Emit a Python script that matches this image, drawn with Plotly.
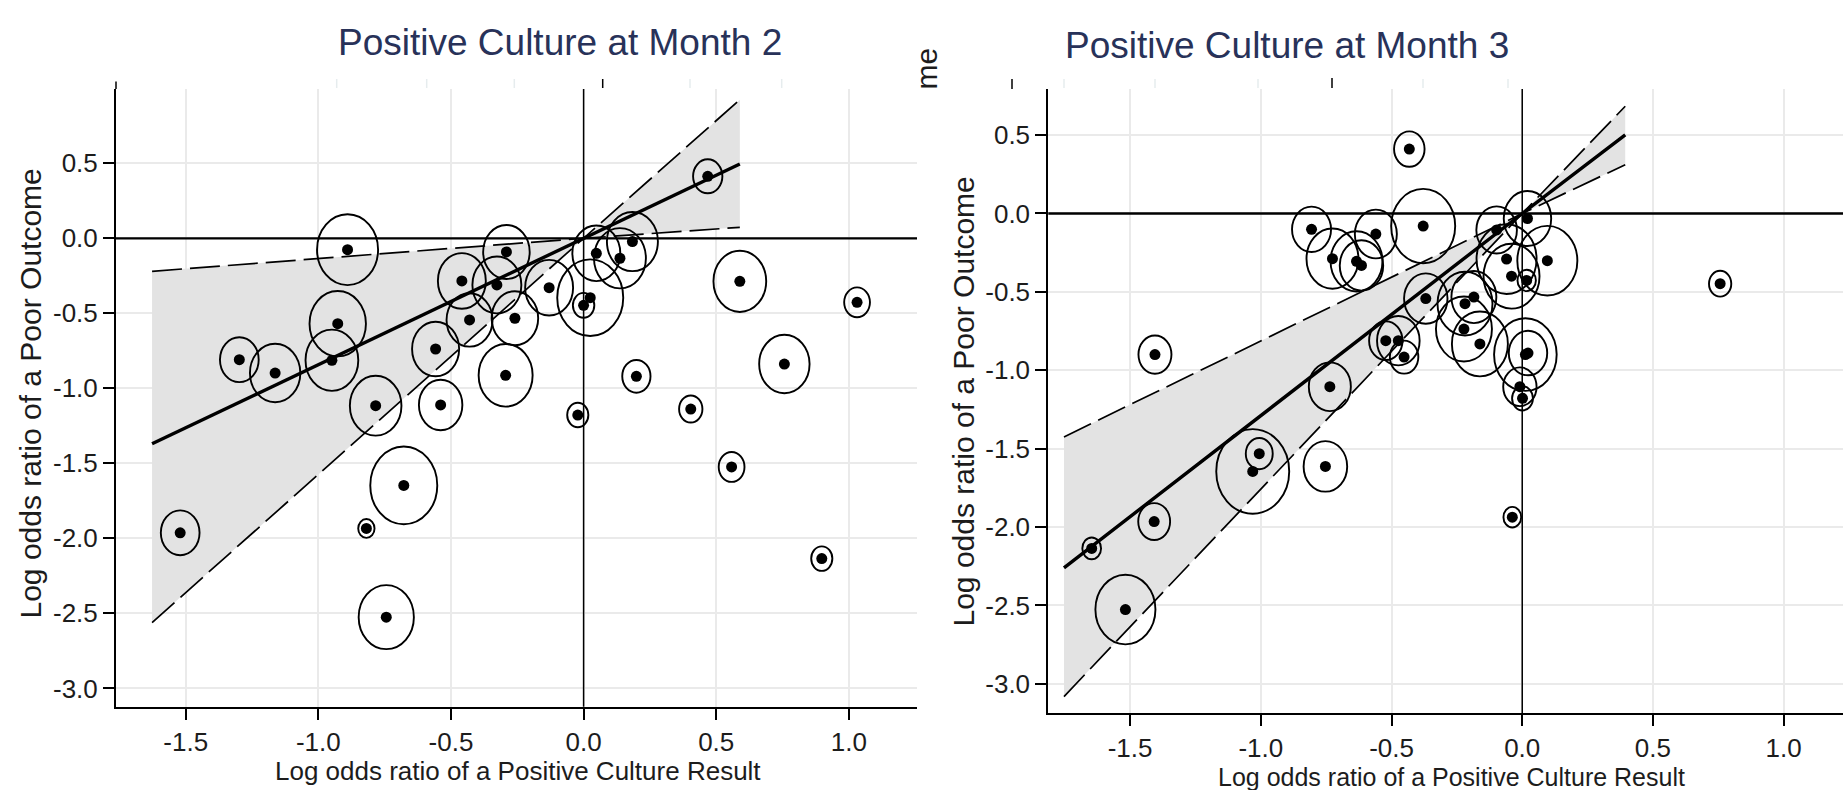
import math
import plotly.graph_objects as go

W, H = 1843, 790

# ---- Month 2: per-study log odds ratios and weights ----
m2_x = [0.468, -0.890, -0.291, 0.184, 0.048, 0.137, -0.459, -0.327, -0.130, 0.025,
        0.000, 0.589, 1.031, -0.927, -0.430, -0.259, -1.298, -1.163, -0.949, -0.558,
        -0.294, 0.199, 0.757, -0.784, -0.539, -0.022, 0.404, 0.558, -0.678, -1.521,
        -0.819, -0.744, 0.898]
m2_y = [0.413, -0.076, -0.091, -0.022, -0.100, -0.133, -0.284, -0.311, -0.329, -0.396,
        -0.447, -0.287, -0.427, -0.569, -0.544, -0.533, -0.809, -0.898, -0.813, -0.738,
        -0.913, -0.920, -0.838, -1.116, -1.111, -1.178, -1.138, -1.524, -1.647, -1.963,
        -1.934, -2.525, -2.135]
m2_w = [7.1, 30.8, 17.9, 21.5, 19.0, 22.3, 19.0, 19.8, 19.0, 36.0,
        3.8, 23.0, 5.5, 26.3, 17.5, 17.9, 12.4, 21.0, 23.0, 18.3,
        24.1, 6.6, 21.0, 22.0, 15.6, 3.7, 4.5, 5.5, 37.1, 12.4,
        2.2, 25.2, 3.7]

# ---- Month 3: per-study log odds ratios and weights ----
m3_x = [-0.432, -1.405, 0.757, -0.806, -0.726, -0.634, -0.615, -0.560, -0.379, -0.369,
        -0.098, 0.020, -0.060, 0.096, -0.041, 0.017, -0.219, -0.185, -0.223, -0.162,
        -0.522, -0.474, -0.452, 0.012, 0.022, -0.009, 0.001, -0.736, -1.006, -1.031,
        -0.753, -1.408, -1.647, -1.518, -0.038]
m3_y = [0.411, -0.900, -0.448, -0.101, -0.288, -0.305, -0.331, -0.131, -0.080, -0.543,
        -0.105, -0.032, -0.291, -0.301, -0.400, -0.427, -0.575, -0.533, -0.737, -0.832,
        -0.811, -0.811, -0.916, -0.900, -0.890, -1.105, -1.179, -1.105, -1.532, -1.645,
        -1.613, -1.965, -2.136, -2.526, -1.937]
m3_w = [7.7, 9.0, 4.1, 12.6, 22.3, 22.3, 15.6, 14.6, 33.9, 15.6,
        13.6, 18.6, 29.8, 29.8, 25.9, 2.8, 25.0, 16.7, 25.9, 25.9,
        9.2, 15.0, 6.7, 32.4, 12.2, 9.2, 3.6, 14.6, 6.0, 44.0,
        15.7, 8.4, 2.9, 29.8, 2.6]

# ---- Fitted meta-regression lines with 95% confidence limits ----
m2_fit_x = [-1.627, 0.0, 0.589]
m2_fit_y = [-1.370, 0.0, 0.495]
m2_ci_hi = [-0.220, 0.0, 0.924]
m2_ci_lo = [-2.561, 0.0, 0.073]

m3_fit_x = [-1.753, 0.0, 0.394]
m3_fit_y = [-2.260, 0.0, 0.501]
m3_ci_hi = [-1.425, 0.0, 0.684]
m3_ci_lo = [-3.081, 0.0, 0.311]

# ---- Tick labels ----
x_tick_vals = [-1.5, -1.0, -0.5, 0.0, 0.5, 1.0]
x_tick_text = ["-1.5", "-1.0", "-0.5", "0.0", "0.5", "1.0"]
y_tick_vals = [0.5, 0.0, -0.5, -1.0, -1.5, -2.0, -2.5, -3.0]
y_tick_text = ["0.5", "0.0", "-0.5", "-1.0", "-1.5", "-2.0", "-2.5", "-3.0"]

titles = ["Positive Culture at Month 2", "Positive Culture at Month 3"]
x_title = "Log odds ratio of a Positive Culture Result"
y_title = "Log odds ratio of a Poor Outcome"

FONT = "Liberation Sans, Arial, Helvetica, sans-serif"
TEXT = "#1c1c1c"
TITLE_COLOR = "#283259"
BAND = "#E3E3E3"
GRID = "#EAEAEA"
ASPECT = 1.16           # bubbles are drawn slightly taller than wide
R_SCALE = 5.5           # px radius per sqrt(weight)


def px_x(p):
    return p / W


def px_y(p):
    return 1 - p / H


fig = go.Figure()
shapes = []
annotations = []

panels = [
    dict(xs="x", ys="y", x=m2_x, y=m2_y, w=m2_w,
         fx=m2_fit_x, fy=m2_fit_y, hi=m2_ci_hi, lo=m2_ci_lo),
    dict(xs="x2", ys="y2", x=m3_x, y=m3_y, w=m3_w,
         fx=m3_fit_x, fy=m3_fit_y, hi=m3_ci_hi, lo=m3_ci_lo),
]

for p in panels:
    # shaded confidence band
    fig.add_trace(go.Scatter(
        x=p["fx"] + p["fx"][::-1], y=p["hi"] + p["lo"][::-1],
        xaxis=p["xs"], yaxis=p["ys"], mode="lines", fill="toself",
        fillcolor=BAND, line=dict(width=0), hoverinfo="skip", showlegend=False))
    # dashed confidence limits
    for lim in (p["hi"], p["lo"]):
        fig.add_trace(go.Scatter(
            x=p["fx"], y=lim, xaxis=p["xs"], yaxis=p["ys"], mode="lines",
            line=dict(color="black", width=1.7, dash="30px,8px"),
            hoverinfo="skip", showlegend=False))
    # fitted line
    fig.add_trace(go.Scatter(
        x=p["fx"], y=p["fy"], xaxis=p["xs"], yaxis=p["ys"], mode="lines",
        line=dict(color="black", width=3.4), hoverinfo="skip", showlegend=False))
    # study estimates
    fig.add_trace(go.Scatter(
        x=p["x"], y=p["y"], xaxis=p["xs"], yaxis=p["ys"], mode="markers",
        marker=dict(color="black", size=11, line=dict(width=0)),
        showlegend=False))
    # weight bubbles
    for xv, yv, wv in zip(p["x"], p["y"], p["w"]):
        r = R_SCALE * math.sqrt(wv)
        shapes.append(dict(
            type="circle", xref=p["xs"], yref=p["ys"],
            xsizemode="pixel", ysizemode="pixel", xanchor=xv, yanchor=yv,
            x0=-r, x1=r, y0=-r * ASPECT, y1=r * ASPECT,
            line=dict(color="black", width=1.9), fillcolor="rgba(0,0,0,0)"))
    # reference lines at zero
    shapes.append(dict(type="line", xref=p["xs"] + " domain", yref=p["ys"],
                       x0=0, x1=1, y0=0, y1=0, line=dict(color="black", width=2.3)))
    shapes.append(dict(type="line", xref=p["xs"], yref=p["ys"] + " domain",
                       x0=0, x1=0, y0=0, y1=1, line=dict(color="black", width=1.5)))

# short strokes along the top edge of each panel
for x0, y0, y1 in [(116, 81.5, 89), (602.7, 79, 88), (1012, 79, 89), (1332, 78, 88)]:
    shapes.append(dict(type="line", xref="paper", yref="paper",
                       x0=px_x(x0), x1=px_x(x0), y0=px_y(y0), y1=px_y(y1),
                       line=dict(color="black", width=1.5)))
for x0 in [336.7, 426.7, 514.3, 690, 781.7, 1064, 1155, 1258, 1423, 1508]:
    shapes.append(dict(type="line", xref="paper", yref="paper",
                       x0=px_x(x0), x1=px_x(x0), y0=px_y(79), y1=px_y(88),
                       line=dict(color="#E6ECEE", width=1.5)))

# panel titles
annotations.append(dict(text=titles[0], x=px_x(560), y=px_y(43), xref="paper", yref="paper",
                        showarrow=False, xanchor="center", yanchor="middle",
                        font=dict(family=FONT, size=37, color=TITLE_COLOR)))
annotations.append(dict(text=titles[1], x=px_x(1287), y=px_y(46), xref="paper", yref="paper",
                        showarrow=False, xanchor="center", yanchor="middle",
                        font=dict(family=FONT, size=37, color=TITLE_COLOR)))
# axis titles
for cx, cy, fs in [(518, 771, 26), (1451.5, 776.5, 25)]:
    annotations.append(dict(text=x_title, x=px_x(cx), y=px_y(cy), xref="paper", yref="paper",
                            showarrow=False, xanchor="center", yanchor="middle",
                            font=dict(family=FONT, size=fs, color=TEXT)))
for cx, cy in [(29.5, 394), (962.5, 402)]:
    annotations.append(dict(text=y_title, x=px_x(cx), y=px_y(cy), xref="paper", yref="paper",
                            showarrow=False, xanchor="center", yanchor="middle", textangle=-90,
                            font=dict(family=FONT, size=30, color=TEXT)))
annotations.append(dict(text="me", x=px_x(925.5), y=px_y(69), xref="paper", yref="paper",
                        showarrow=False, xanchor="center", yanchor="middle", textangle=-90,
                        font=dict(family=FONT, size=30, color=TEXT)))

axis_common = dict(
    showgrid=True, gridcolor=GRID, gridwidth=1.6, zeroline=False,
    showline=True, linecolor="black", linewidth=2, mirror=False,
    ticks="outside", ticklen=11, tickwidth=1.5, tickcolor="black",
    tickfont=dict(family=FONT, size=26, color=TEXT),
)

fig.update_layout(
    width=W, height=H, margin=dict(l=0, r=0, t=0, b=0),
    paper_bgcolor="white", plot_bgcolor="white", showlegend=False,
    shapes=shapes, annotations=annotations,
    xaxis=dict(domain=[px_x(116), px_x(917)], range=[-1.763, 1.257], anchor="y",
               tickvals=x_tick_vals, ticktext=x_tick_text, **axis_common),
    yaxis=dict(domain=[px_y(706.7), px_y(89)], range=[-3.122, 0.995], anchor="x",
               tickvals=y_tick_vals, ticktext=y_tick_text, **axis_common),
    xaxis2=dict(domain=[px_x(1048.3), 1.0], range=[-1.813, 1.227], anchor="y2",
                tickvals=x_tick_vals, ticktext=x_tick_text, **axis_common),
    yaxis2=dict(domain=[px_y(713), px_y(89)], range=[-3.186, 0.794], anchor="x2",
                tickvals=y_tick_vals, ticktext=y_tick_text, **axis_common),
)

fig.write_html("out.html")
